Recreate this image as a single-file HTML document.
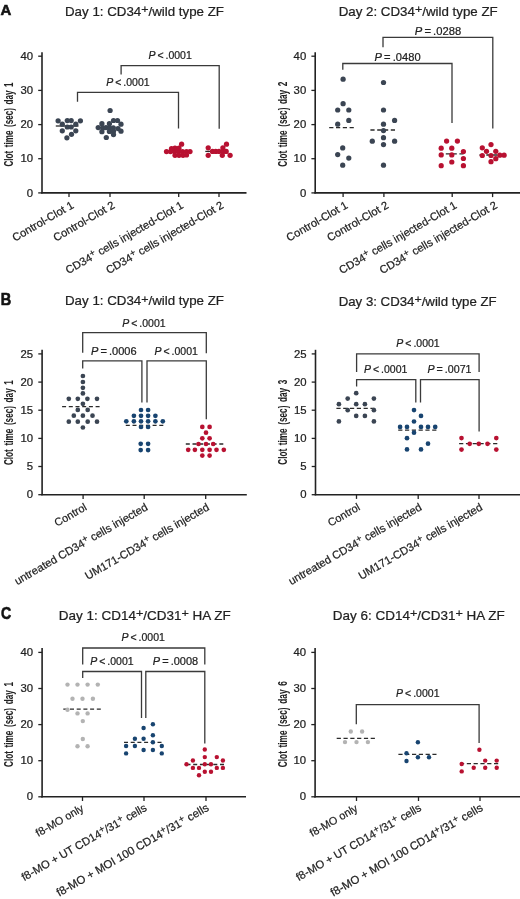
<!DOCTYPE html>
<html><head><meta charset="utf-8"><title>Clot time figure</title>
<style>
html,body{margin:0;padding:0;background:#fff;}
body{width:520px;height:899px;overflow:hidden;}
svg{display:block;font-family:"Liberation Sans",sans-serif;will-change:transform;}
text:not([stroke]){stroke:#222;stroke-width:0.22px;}
</style></head>
<body>
<svg width="520" height="899" viewBox="0 0 520 899">
<rect width="520" height="899" fill="#fff"/>
<text x="0.6" y="14.7" font-size="15.4" font-weight="bold" fill="#111" stroke="#111" stroke-width="0.6" textLength="10.8" lengthAdjust="spacingAndGlyphs">A</text>
<text x="65" y="15.5" font-size="12.6" fill="#222" textLength="159" lengthAdjust="spacingAndGlyphs">Day 1: CD34<tspan font-size="11.8" dy="-2.7">+</tspan><tspan dy="2.7">/wild type ZF</tspan></text>
<text x="338.7" y="15.5" font-size="12.6" fill="#222" textLength="159" lengthAdjust="spacingAndGlyphs">Day 2: CD34<tspan font-size="11.8" dy="-2.7">+</tspan><tspan dy="2.7">/wild type ZF</tspan></text>
<line x1="42" y1="52.2" x2="42" y2="193.5" stroke="#222" stroke-width="1.6"/>
<line x1="41.2" y1="192.9" x2="246.5" y2="192.9" stroke="#222" stroke-width="1.6"/>
<line x1="38.2" y1="192.9" x2="42" y2="192.9" stroke="#222" stroke-width="1.3"/>
<text x="33.0" y="196.5" font-size="10" text-anchor="end" fill="#222" textLength="6.3" lengthAdjust="spacingAndGlyphs">0</text>
<line x1="38.2" y1="158.7" x2="42" y2="158.7" stroke="#222" stroke-width="1.3"/>
<text x="33.0" y="162.3" font-size="10" text-anchor="end" fill="#222" textLength="12.6" lengthAdjust="spacingAndGlyphs">10</text>
<line x1="38.2" y1="124.6" x2="42" y2="124.6" stroke="#222" stroke-width="1.3"/>
<text x="33.0" y="128.2" font-size="10" text-anchor="end" fill="#222" textLength="12.6" lengthAdjust="spacingAndGlyphs">20</text>
<line x1="38.2" y1="90.4" x2="42" y2="90.4" stroke="#222" stroke-width="1.3"/>
<text x="33.0" y="94.0" font-size="10" text-anchor="end" fill="#222" textLength="12.6" lengthAdjust="spacingAndGlyphs">30</text>
<line x1="38.2" y1="56.2" x2="42" y2="56.2" stroke="#222" stroke-width="1.3"/>
<text x="33.0" y="59.8" font-size="10" text-anchor="end" fill="#222" textLength="12.6" lengthAdjust="spacingAndGlyphs">40</text>
<text transform="translate(8.6,124.5) rotate(-90)" x="0" y="4.5" font-size="13.2" font-weight="bold" text-anchor="middle" fill="#222" stroke="#222" stroke-width="0.05" word-spacing="2.2" textLength="84" lengthAdjust="spacingAndGlyphs">Clot time (sec) day 1</text>
<line x1="69" y1="192.9" x2="69" y2="197.1" stroke="#222" stroke-width="1.3"/>
<line x1="110" y1="192.9" x2="110" y2="197.1" stroke="#222" stroke-width="1.3"/>
<line x1="178.7" y1="192.9" x2="178.7" y2="197.1" stroke="#222" stroke-width="1.3"/>
<line x1="219" y1="192.9" x2="219" y2="197.1" stroke="#222" stroke-width="1.3"/>
<text transform="translate(74.5,207.3) rotate(-30)" font-size="11.15" text-anchor="end" fill="#222">Control-Clot 1</text>
<text transform="translate(115.5,207.3) rotate(-30)" font-size="11.15" text-anchor="end" fill="#222">Control-Clot 2</text>
<text transform="translate(184.2,207.3) rotate(-30)" font-size="11.15" text-anchor="end" fill="#222">CD34<tspan font-size="9.6" dy="-3.3">+</tspan><tspan dy="3.3"> cells injected-Clot 1</tspan></text>
<text transform="translate(224.5,207.3) rotate(-30)" font-size="11.15" text-anchor="end" fill="#222">CD34<tspan font-size="9.6" dy="-3.3">+</tspan><tspan dy="3.3"> cells injected-Clot 2</tspan></text>
<line x1="55.8" y1="126" x2="78.5" y2="126" stroke="#2a2a2a" stroke-width="1.3"/>
<circle cx="58.1" cy="120.8" r="2.62" fill="#3b4553"/>
<circle cx="67.3" cy="120.6" r="2.62" fill="#3b4553"/>
<circle cx="71.2" cy="120.6" r="2.62" fill="#3b4553"/>
<circle cx="80.4" cy="120.8" r="2.62" fill="#3b4553"/>
<circle cx="62.3" cy="124.2" r="2.62" fill="#3b4553"/>
<circle cx="75.8" cy="124.2" r="2.62" fill="#3b4553"/>
<circle cx="67.3" cy="127.0" r="2.62" fill="#3b4553"/>
<circle cx="71.2" cy="127.0" r="2.62" fill="#3b4553"/>
<circle cx="62.3" cy="130.8" r="2.62" fill="#3b4553"/>
<circle cx="75.8" cy="130.8" r="2.62" fill="#3b4553"/>
<circle cx="71.5" cy="134.3" r="2.62" fill="#3b4553"/>
<circle cx="66.9" cy="137.8" r="2.62" fill="#3b4553"/>
<line x1="100" y1="127.5" x2="112" y2="127.5" stroke="#2a2a2a" stroke-width="1.3"/>
<circle cx="110.1" cy="110.5" r="2.62" fill="#3b4553"/>
<circle cx="113.5" cy="120.5" r="2.62" fill="#3b4553"/>
<circle cx="117.5" cy="120.5" r="2.62" fill="#3b4553"/>
<circle cx="101.9" cy="123.7" r="2.62" fill="#3b4553"/>
<circle cx="109.4" cy="123.7" r="2.62" fill="#3b4553"/>
<circle cx="121.0" cy="124.2" r="2.62" fill="#3b4553"/>
<circle cx="98.2" cy="127.6" r="2.62" fill="#3b4553"/>
<circle cx="102.8" cy="128.0" r="2.62" fill="#3b4553"/>
<circle cx="106.0" cy="127.6" r="2.62" fill="#3b4553"/>
<circle cx="109.4" cy="128.0" r="2.62" fill="#3b4553"/>
<circle cx="113.3" cy="127.8" r="2.62" fill="#3b4553"/>
<circle cx="118.0" cy="128.6" r="2.62" fill="#3b4553"/>
<circle cx="101.9" cy="131.7" r="2.62" fill="#3b4553"/>
<circle cx="109.4" cy="131.5" r="2.62" fill="#3b4553"/>
<circle cx="113.5" cy="131.2" r="2.62" fill="#3b4553"/>
<circle cx="121.0" cy="131.2" r="2.62" fill="#3b4553"/>
<circle cx="113.5" cy="134.6" r="2.62" fill="#3b4553"/>
<circle cx="106.3" cy="137.5" r="2.62" fill="#3b4553"/>
<line x1="167" y1="151.6" x2="190" y2="151.6" stroke="#2a2a2a" stroke-width="1.3"/>
<circle cx="166.5" cy="151.6" r="2.62" fill="#b81131"/>
<circle cx="170.5" cy="151.6" r="2.62" fill="#b81131"/>
<circle cx="174.5" cy="151.6" r="2.62" fill="#b81131"/>
<circle cx="178.5" cy="151.6" r="2.62" fill="#b81131"/>
<circle cx="182.5" cy="151.6" r="2.62" fill="#b81131"/>
<circle cx="186.5" cy="151.6" r="2.62" fill="#b81131"/>
<circle cx="190.0" cy="151.6" r="2.62" fill="#b81131"/>
<circle cx="175.0" cy="148.0" r="2.62" fill="#b81131"/>
<circle cx="179.0" cy="148.0" r="2.62" fill="#b81131"/>
<circle cx="175.0" cy="155.3" r="2.62" fill="#b81131"/>
<circle cx="179.0" cy="155.3" r="2.62" fill="#b81131"/>
<circle cx="183.0" cy="155.3" r="2.62" fill="#b81131"/>
<circle cx="186.5" cy="155.0" r="2.62" fill="#b81131"/>
<circle cx="181.6" cy="144.2" r="2.62" fill="#b81131"/>
<circle cx="171.5" cy="148.5" r="2.62" fill="#b81131"/>
<line x1="205.3" y1="151.4" x2="224" y2="151.4" stroke="#2a2a2a" stroke-width="1.3"/>
<circle cx="208.2" cy="147.8" r="2.62" fill="#b81131"/>
<circle cx="208.2" cy="155.3" r="2.62" fill="#b81131"/>
<circle cx="212.5" cy="151.4" r="2.62" fill="#b81131"/>
<circle cx="215.7" cy="151.4" r="2.62" fill="#b81131"/>
<circle cx="219.0" cy="151.4" r="2.62" fill="#b81131"/>
<circle cx="223.2" cy="151.6" r="2.62" fill="#b81131"/>
<circle cx="222.9" cy="147.8" r="2.62" fill="#b81131"/>
<circle cx="226.5" cy="144.2" r="2.62" fill="#b81131"/>
<circle cx="222.3" cy="155.3" r="2.62" fill="#b81131"/>
<circle cx="226.2" cy="151.4" r="2.62" fill="#b81131"/>
<circle cx="230.1" cy="155.3" r="2.62" fill="#b81131"/>
<polyline points="77.5,101.8 77.5,92.3 178.5,92.3 178.5,128.5" fill="none" stroke="#3a3a3a" stroke-width="1.3"/>
<polyline points="121.1,74.5 121.1,65.7 219.2,65.7 219.2,128.8" fill="none" stroke="#3a3a3a" stroke-width="1.3"/>
<text x="106.2" y="85.5" font-size="10.2" fill="#222" textLength="43.4" lengthAdjust="spacingAndGlyphs" word-spacing="-0.9"><tspan font-style="italic">P</tspan> &lt; .0001</text>
<text x="148.4" y="58.7" font-size="10.2" fill="#222" textLength="43.4" lengthAdjust="spacingAndGlyphs" word-spacing="-0.9"><tspan font-style="italic">P</tspan> &lt; .0001</text>
<line x1="315.2" y1="52.2" x2="315.2" y2="193.5" stroke="#222" stroke-width="1.6"/>
<line x1="314.4" y1="192.9" x2="520" y2="192.9" stroke="#222" stroke-width="1.6"/>
<line x1="311.4" y1="192.9" x2="315.2" y2="192.9" stroke="#222" stroke-width="1.3"/>
<text x="306.2" y="196.5" font-size="10" text-anchor="end" fill="#222" textLength="6.3" lengthAdjust="spacingAndGlyphs">0</text>
<line x1="311.4" y1="158.7" x2="315.2" y2="158.7" stroke="#222" stroke-width="1.3"/>
<text x="306.2" y="162.3" font-size="10" text-anchor="end" fill="#222" textLength="12.6" lengthAdjust="spacingAndGlyphs">10</text>
<line x1="311.4" y1="124.6" x2="315.2" y2="124.6" stroke="#222" stroke-width="1.3"/>
<text x="306.2" y="128.2" font-size="10" text-anchor="end" fill="#222" textLength="12.6" lengthAdjust="spacingAndGlyphs">20</text>
<line x1="311.4" y1="90.4" x2="315.2" y2="90.4" stroke="#222" stroke-width="1.3"/>
<text x="306.2" y="94.0" font-size="10" text-anchor="end" fill="#222" textLength="12.6" lengthAdjust="spacingAndGlyphs">30</text>
<line x1="311.4" y1="56.2" x2="315.2" y2="56.2" stroke="#222" stroke-width="1.3"/>
<text x="306.2" y="59.8" font-size="10" text-anchor="end" fill="#222" textLength="12.6" lengthAdjust="spacingAndGlyphs">40</text>
<text transform="translate(282.3,124.2) rotate(-90)" x="0" y="4.5" font-size="13.2" font-weight="bold" text-anchor="middle" fill="#222" stroke="#222" stroke-width="0.05" word-spacing="2.2" textLength="85" lengthAdjust="spacingAndGlyphs">Clot time (sec) day 2</text>
<line x1="343.1" y1="192.9" x2="343.1" y2="197.1" stroke="#222" stroke-width="1.3"/>
<line x1="383.9" y1="192.9" x2="383.9" y2="197.1" stroke="#222" stroke-width="1.3"/>
<line x1="452.2" y1="192.9" x2="452.2" y2="197.1" stroke="#222" stroke-width="1.3"/>
<line x1="492.6" y1="192.9" x2="492.6" y2="197.1" stroke="#222" stroke-width="1.3"/>
<text transform="translate(348.6,207.3) rotate(-30)" font-size="11.15" text-anchor="end" fill="#222">Control-Clot 1</text>
<text transform="translate(389.4,207.3) rotate(-30)" font-size="11.15" text-anchor="end" fill="#222">Control-Clot 2</text>
<text transform="translate(457.7,207.3) rotate(-30)" font-size="11.15" text-anchor="end" fill="#222">CD34<tspan font-size="9.6" dy="-3.3">+</tspan><tspan dy="3.3"> cells injected-Clot 1</tspan></text>
<text transform="translate(498.1,207.3) rotate(-30)" font-size="11.15" text-anchor="end" fill="#222">CD34<tspan font-size="9.6" dy="-3.3">+</tspan><tspan dy="3.3"> cells injected-Clot 2</tspan></text>
<line x1="329.2" y1="127.7" x2="354" y2="127.7" stroke="#2a2a2a" stroke-width="1.3" stroke-dasharray="4.2,2.6"/>
<circle cx="343.1" cy="79.2" r="2.62" fill="#3b4553"/>
<circle cx="343.1" cy="103.7" r="2.62" fill="#3b4553"/>
<circle cx="337.7" cy="110.0" r="2.62" fill="#3b4553"/>
<circle cx="348.8" cy="110.0" r="2.62" fill="#3b4553"/>
<circle cx="348.8" cy="120.4" r="2.62" fill="#3b4553"/>
<circle cx="337.7" cy="124.2" r="2.62" fill="#3b4553"/>
<circle cx="342.7" cy="147.9" r="2.62" fill="#3b4553"/>
<circle cx="337.7" cy="154.6" r="2.62" fill="#3b4553"/>
<circle cx="348.8" cy="158.1" r="2.62" fill="#3b4553"/>
<circle cx="342.7" cy="165.2" r="2.62" fill="#3b4553"/>
<line x1="370.4" y1="130" x2="395" y2="130" stroke="#2a2a2a" stroke-width="1.3" stroke-dasharray="4.2,2.6"/>
<circle cx="383.5" cy="82.5" r="2.62" fill="#3b4553"/>
<circle cx="383.5" cy="110.0" r="2.62" fill="#3b4553"/>
<circle cx="394.6" cy="120.4" r="2.62" fill="#3b4553"/>
<circle cx="383.5" cy="124.2" r="2.62" fill="#3b4553"/>
<circle cx="383.5" cy="130.6" r="2.62" fill="#3b4553"/>
<circle cx="383.5" cy="137.7" r="2.62" fill="#3b4553"/>
<circle cx="372.3" cy="141.2" r="2.62" fill="#3b4553"/>
<circle cx="394.6" cy="141.2" r="2.62" fill="#3b4553"/>
<circle cx="383.5" cy="144.6" r="2.62" fill="#3b4553"/>
<circle cx="383.5" cy="165.2" r="2.62" fill="#3b4553"/>
<line x1="439" y1="153.8" x2="465" y2="153.8" stroke="#2a2a2a" stroke-width="1.3" stroke-dasharray="4.2,2.6"/>
<circle cx="446.6" cy="141.1" r="2.62" fill="#b81131"/>
<circle cx="457.4" cy="141.1" r="2.62" fill="#b81131"/>
<circle cx="441.2" cy="148.2" r="2.62" fill="#b81131"/>
<circle cx="451.8" cy="148.2" r="2.62" fill="#b81131"/>
<circle cx="463.4" cy="151.5" r="2.62" fill="#b81131"/>
<circle cx="441.2" cy="154.9" r="2.62" fill="#b81131"/>
<circle cx="451.8" cy="154.9" r="2.62" fill="#b81131"/>
<circle cx="463.4" cy="158.5" r="2.62" fill="#b81131"/>
<circle cx="451.8" cy="162.0" r="2.62" fill="#b81131"/>
<circle cx="441.2" cy="165.7" r="2.62" fill="#b81131"/>
<circle cx="463.4" cy="165.7" r="2.62" fill="#b81131"/>
<line x1="479.5" y1="155" x2="505" y2="155" stroke="#2a2a2a" stroke-width="1.3" stroke-dasharray="4.2,2.6"/>
<circle cx="491.0" cy="144.6" r="2.62" fill="#b81131"/>
<circle cx="482.3" cy="147.8" r="2.62" fill="#b81131"/>
<circle cx="486.5" cy="151.3" r="2.62" fill="#b81131"/>
<circle cx="495.8" cy="151.3" r="2.62" fill="#b81131"/>
<circle cx="482.3" cy="155.5" r="2.62" fill="#b81131"/>
<circle cx="491.0" cy="155.5" r="2.62" fill="#b81131"/>
<circle cx="499.8" cy="155.2" r="2.62" fill="#b81131"/>
<circle cx="504.1" cy="155.2" r="2.62" fill="#b81131"/>
<circle cx="495.8" cy="158.7" r="2.62" fill="#b81131"/>
<circle cx="491.0" cy="161.7" r="2.62" fill="#b81131"/>
<polyline points="342.8,69.7 342.8,63.5 452,63.5 452,123" fill="none" stroke="#3a3a3a" stroke-width="1.3"/>
<polyline points="383,47.2 383,37.4 492.8,37.4 492.8,128.5" fill="none" stroke="#3a3a3a" stroke-width="1.3"/>
<text x="374.6" y="61.3" font-size="10.2" fill="#222" textLength="46.0" lengthAdjust="spacingAndGlyphs" word-spacing="-0.9"><tspan font-style="italic">P</tspan> = .0480</text>
<text x="414.8" y="34.9" font-size="10.2" fill="#222" textLength="46.4" lengthAdjust="spacingAndGlyphs" word-spacing="-0.9"><tspan font-style="italic">P</tspan> = .0288</text>
<text x="0.8" y="304.9" font-size="15.6" font-weight="bold" fill="#111" stroke="#111" stroke-width="0.6" textLength="10.5" lengthAdjust="spacingAndGlyphs">B</text>
<text x="65" y="305.2" font-size="12.6" fill="#222" textLength="159" lengthAdjust="spacingAndGlyphs">Day 1: CD34<tspan font-size="11.8" dy="-2.7">+</tspan><tspan dy="2.7">/wild type ZF</tspan></text>
<text x="338.7" y="306" font-size="12.6" fill="#222" textLength="158" lengthAdjust="spacingAndGlyphs">Day 3: CD34<tspan font-size="11.8" dy="-2.7">+</tspan><tspan dy="2.7">/wild type ZF</tspan></text>
<line x1="42.1" y1="349.8" x2="42.1" y2="495.3" stroke="#222" stroke-width="1.6"/>
<line x1="41.300000000000004" y1="494.7" x2="246.8" y2="494.7" stroke="#222" stroke-width="1.6"/>
<line x1="38.300000000000004" y1="494.7" x2="42.1" y2="494.7" stroke="#222" stroke-width="1.3"/>
<text x="33.1" y="498.3" font-size="10" text-anchor="end" fill="#222" textLength="6.3" lengthAdjust="spacingAndGlyphs">0</text>
<line x1="38.300000000000004" y1="466.5" x2="42.1" y2="466.5" stroke="#222" stroke-width="1.3"/>
<text x="33.1" y="470.1" font-size="10" text-anchor="end" fill="#222" textLength="6.3" lengthAdjust="spacingAndGlyphs">5</text>
<line x1="38.300000000000004" y1="438.4" x2="42.1" y2="438.4" stroke="#222" stroke-width="1.3"/>
<text x="33.1" y="442.0" font-size="10" text-anchor="end" fill="#222" textLength="12.6" lengthAdjust="spacingAndGlyphs">10</text>
<line x1="38.300000000000004" y1="410.2" x2="42.1" y2="410.2" stroke="#222" stroke-width="1.3"/>
<text x="33.1" y="413.8" font-size="10" text-anchor="end" fill="#222" textLength="12.6" lengthAdjust="spacingAndGlyphs">15</text>
<line x1="38.300000000000004" y1="382.1" x2="42.1" y2="382.1" stroke="#222" stroke-width="1.3"/>
<text x="33.1" y="385.7" font-size="10" text-anchor="end" fill="#222" textLength="12.6" lengthAdjust="spacingAndGlyphs">20</text>
<line x1="38.300000000000004" y1="353.9" x2="42.1" y2="353.9" stroke="#222" stroke-width="1.3"/>
<text x="33.1" y="357.5" font-size="10" text-anchor="end" fill="#222" textLength="12.6" lengthAdjust="spacingAndGlyphs">25</text>
<text transform="translate(8.9,422.6) rotate(-90)" x="0" y="4.5" font-size="13.2" font-weight="bold" text-anchor="middle" fill="#222" stroke="#222" stroke-width="0.05" word-spacing="2.2" textLength="85" lengthAdjust="spacingAndGlyphs">Clot time (sec) day 1</text>
<line x1="83.1" y1="494.7" x2="83.1" y2="498.9" stroke="#222" stroke-width="1.3"/>
<line x1="144.2" y1="494.7" x2="144.2" y2="498.9" stroke="#222" stroke-width="1.3"/>
<line x1="205.7" y1="494.7" x2="205.7" y2="498.9" stroke="#222" stroke-width="1.3"/>
<text transform="translate(87.5,509.3) rotate(-30)" font-size="10.9" text-anchor="end" fill="#222">Control</text>
<text transform="translate(148.6,509.3) rotate(-30)" font-size="11.2" text-anchor="end" fill="#222">untreated CD34<tspan font-size="9.6" dy="-3.3">+</tspan><tspan dy="3.3"> cells injected</tspan></text>
<text transform="translate(210.1,509.3) rotate(-30)" font-size="11.2" text-anchor="end" fill="#222">UM171-CD34<tspan font-size="9.6" dy="-3.3">+</tspan><tspan dy="3.3"> cells injected</tspan></text>
<line x1="62.1" y1="406.7" x2="100" y2="406.7" stroke="#2a2a2a" stroke-width="1.3" stroke-dasharray="4,2.7"/>
<circle cx="82.9" cy="376.0" r="2.35" fill="#3b4553"/>
<circle cx="82.9" cy="382.0" r="2.35" fill="#3b4553"/>
<circle cx="82.9" cy="387.8" r="2.35" fill="#3b4553"/>
<circle cx="82.9" cy="393.4" r="2.35" fill="#3b4553"/>
<circle cx="68.8" cy="398.8" r="2.35" fill="#3b4553"/>
<circle cx="77.8" cy="398.8" r="2.35" fill="#3b4553"/>
<circle cx="87.4" cy="398.8" r="2.35" fill="#3b4553"/>
<circle cx="97.0" cy="398.8" r="2.35" fill="#3b4553"/>
<circle cx="82.9" cy="403.8" r="2.35" fill="#3b4553"/>
<circle cx="77.8" cy="409.9" r="2.35" fill="#3b4553"/>
<circle cx="87.7" cy="409.9" r="2.35" fill="#3b4553"/>
<circle cx="73.8" cy="415.7" r="2.35" fill="#3b4553"/>
<circle cx="82.9" cy="415.7" r="2.35" fill="#3b4553"/>
<circle cx="92.5" cy="415.7" r="2.35" fill="#3b4553"/>
<circle cx="68.8" cy="421.7" r="2.35" fill="#3b4553"/>
<circle cx="77.8" cy="421.7" r="2.35" fill="#3b4553"/>
<circle cx="87.7" cy="421.7" r="2.35" fill="#3b4553"/>
<circle cx="97.0" cy="421.7" r="2.35" fill="#3b4553"/>
<circle cx="82.9" cy="427.5" r="2.35" fill="#3b4553"/>
<line x1="125.8" y1="425.4" x2="164.5" y2="425.4" stroke="#2a2a2a" stroke-width="1.3" stroke-dasharray="4,2.7"/>
<circle cx="141.0" cy="410.0" r="2.35" fill="#184470"/>
<circle cx="148.1" cy="410.0" r="2.35" fill="#184470"/>
<circle cx="133.9" cy="415.8" r="2.35" fill="#184470"/>
<circle cx="141.0" cy="415.8" r="2.35" fill="#184470"/>
<circle cx="148.1" cy="415.8" r="2.35" fill="#184470"/>
<circle cx="155.4" cy="415.8" r="2.35" fill="#184470"/>
<circle cx="126.3" cy="421.3" r="2.35" fill="#184470"/>
<circle cx="133.9" cy="421.3" r="2.35" fill="#184470"/>
<circle cx="141.0" cy="421.3" r="2.35" fill="#184470"/>
<circle cx="148.1" cy="421.3" r="2.35" fill="#184470"/>
<circle cx="155.4" cy="421.3" r="2.35" fill="#184470"/>
<circle cx="162.8" cy="421.3" r="2.35" fill="#184470"/>
<circle cx="141.0" cy="427.0" r="2.35" fill="#184470"/>
<circle cx="148.1" cy="427.0" r="2.35" fill="#184470"/>
<circle cx="140.7" cy="443.8" r="2.35" fill="#184470"/>
<circle cx="148.1" cy="443.8" r="2.35" fill="#184470"/>
<circle cx="140.7" cy="450.1" r="2.35" fill="#184470"/>
<circle cx="148.1" cy="450.1" r="2.35" fill="#184470"/>
<line x1="185.8" y1="444" x2="224" y2="444" stroke="#2a2a2a" stroke-width="1.3" stroke-dasharray="4,2.7"/>
<circle cx="202.3" cy="426.9" r="2.35" fill="#b81131"/>
<circle cx="209.6" cy="426.9" r="2.35" fill="#b81131"/>
<circle cx="206.0" cy="432.7" r="2.35" fill="#b81131"/>
<circle cx="202.3" cy="438.3" r="2.35" fill="#b81131"/>
<circle cx="209.6" cy="438.3" r="2.35" fill="#b81131"/>
<circle cx="198.5" cy="444.0" r="2.35" fill="#b81131"/>
<circle cx="206.0" cy="444.0" r="2.35" fill="#b81131"/>
<circle cx="213.2" cy="444.0" r="2.35" fill="#b81131"/>
<circle cx="188.2" cy="449.8" r="2.35" fill="#b81131"/>
<circle cx="194.9" cy="449.8" r="2.35" fill="#b81131"/>
<circle cx="202.3" cy="449.8" r="2.35" fill="#b81131"/>
<circle cx="209.6" cy="449.8" r="2.35" fill="#b81131"/>
<circle cx="216.5" cy="449.8" r="2.35" fill="#b81131"/>
<circle cx="223.8" cy="449.8" r="2.35" fill="#b81131"/>
<circle cx="202.3" cy="455.6" r="2.35" fill="#b81131"/>
<circle cx="209.6" cy="455.6" r="2.35" fill="#b81131"/>
<polyline points="82.7,352.7 82.7,332.7 206.3,332.7 206.3,353.3" fill="none" stroke="#3a3a3a" stroke-width="1.3"/>
<polyline points="82.7,368.5 82.7,360.8 141.9,360.8 141.9,402.5" fill="none" stroke="#3a3a3a" stroke-width="1.3"/>
<polyline points="147,402.5 147,360.8 206.3,360.8 206.3,419.3" fill="none" stroke="#3a3a3a" stroke-width="1.3"/>
<text x="122.2" y="326.5" font-size="10.2" fill="#222" textLength="43.4" lengthAdjust="spacingAndGlyphs" word-spacing="-0.9"><tspan font-style="italic">P</tspan> &lt; .0001</text>
<text x="91" y="354.7" font-size="10.2" fill="#222" textLength="45.6" lengthAdjust="spacingAndGlyphs" word-spacing="-0.9"><tspan font-style="italic">P</tspan> = .0006</text>
<text x="154.5" y="354.7" font-size="10.2" fill="#222" textLength="43.4" lengthAdjust="spacingAndGlyphs" word-spacing="-0.9"><tspan font-style="italic">P</tspan> &lt; .0001</text>
<line x1="315.5" y1="349.8" x2="315.5" y2="495.3" stroke="#222" stroke-width="1.6"/>
<line x1="314.7" y1="494.7" x2="520" y2="494.7" stroke="#222" stroke-width="1.6"/>
<line x1="311.7" y1="494.7" x2="315.5" y2="494.7" stroke="#222" stroke-width="1.3"/>
<text x="306.5" y="498.3" font-size="10" text-anchor="end" fill="#222" textLength="6.3" lengthAdjust="spacingAndGlyphs">0</text>
<line x1="311.7" y1="466.5" x2="315.5" y2="466.5" stroke="#222" stroke-width="1.3"/>
<text x="306.5" y="470.1" font-size="10" text-anchor="end" fill="#222" textLength="6.3" lengthAdjust="spacingAndGlyphs">5</text>
<line x1="311.7" y1="438.4" x2="315.5" y2="438.4" stroke="#222" stroke-width="1.3"/>
<text x="306.5" y="442.0" font-size="10" text-anchor="end" fill="#222" textLength="12.6" lengthAdjust="spacingAndGlyphs">10</text>
<line x1="311.7" y1="410.2" x2="315.5" y2="410.2" stroke="#222" stroke-width="1.3"/>
<text x="306.5" y="413.8" font-size="10" text-anchor="end" fill="#222" textLength="12.6" lengthAdjust="spacingAndGlyphs">15</text>
<line x1="311.7" y1="382.1" x2="315.5" y2="382.1" stroke="#222" stroke-width="1.3"/>
<text x="306.5" y="385.7" font-size="10" text-anchor="end" fill="#222" textLength="12.6" lengthAdjust="spacingAndGlyphs">20</text>
<line x1="311.7" y1="353.9" x2="315.5" y2="353.9" stroke="#222" stroke-width="1.3"/>
<text x="306.5" y="357.5" font-size="10" text-anchor="end" fill="#222" textLength="12.6" lengthAdjust="spacingAndGlyphs">25</text>
<text transform="translate(282.2,422.2) rotate(-90)" x="0" y="4.5" font-size="13.2" font-weight="bold" text-anchor="middle" fill="#222" stroke="#222" stroke-width="0.05" word-spacing="2.2" textLength="85" lengthAdjust="spacingAndGlyphs">Clot time (sec) day 3</text>
<line x1="356.5" y1="494.7" x2="356.5" y2="498.9" stroke="#222" stroke-width="1.3"/>
<line x1="418.2" y1="494.7" x2="418.2" y2="498.9" stroke="#222" stroke-width="1.3"/>
<line x1="479" y1="494.7" x2="479" y2="498.9" stroke="#222" stroke-width="1.3"/>
<text transform="translate(360.9,509.3) rotate(-30)" font-size="10.9" text-anchor="end" fill="#222">Control</text>
<text transform="translate(422.6,509.3) rotate(-30)" font-size="11.2" text-anchor="end" fill="#222">untreated CD34<tspan font-size="9.6" dy="-3.3">+</tspan><tspan dy="3.3"> cells injected</tspan></text>
<text transform="translate(483.4,509.3) rotate(-30)" font-size="11.2" text-anchor="end" fill="#222">UM171-CD34<tspan font-size="9.6" dy="-3.3">+</tspan><tspan dy="3.3"> cells injected</tspan></text>
<line x1="336.4" y1="408.3" x2="375.5" y2="408.3" stroke="#2a2a2a" stroke-width="1.3" stroke-dasharray="4.2,2.6"/>
<circle cx="356.2" cy="393.2" r="2.35" fill="#3b4553"/>
<circle cx="347.7" cy="398.6" r="2.35" fill="#3b4553"/>
<circle cx="373.9" cy="398.6" r="2.35" fill="#3b4553"/>
<circle cx="338.9" cy="404.2" r="2.35" fill="#3b4553"/>
<circle cx="356.2" cy="404.2" r="2.35" fill="#3b4553"/>
<circle cx="364.9" cy="404.2" r="2.35" fill="#3b4553"/>
<circle cx="347.7" cy="410.2" r="2.35" fill="#3b4553"/>
<circle cx="373.9" cy="410.2" r="2.35" fill="#3b4553"/>
<circle cx="356.2" cy="415.9" r="2.35" fill="#3b4553"/>
<circle cx="364.9" cy="415.9" r="2.35" fill="#3b4553"/>
<circle cx="338.9" cy="421.4" r="2.35" fill="#3b4553"/>
<circle cx="373.9" cy="421.4" r="2.35" fill="#3b4553"/>
<line x1="398.2" y1="430.2" x2="436.5" y2="430.2" stroke="#2a2a2a" stroke-width="1.3" stroke-dasharray="4.2,2.6"/>
<circle cx="414.0" cy="410.1" r="2.35" fill="#184470"/>
<circle cx="421.0" cy="415.9" r="2.35" fill="#184470"/>
<circle cx="414.0" cy="421.5" r="2.35" fill="#184470"/>
<circle cx="400.1" cy="426.9" r="2.35" fill="#184470"/>
<circle cx="407.0" cy="426.9" r="2.35" fill="#184470"/>
<circle cx="421.0" cy="426.9" r="2.35" fill="#184470"/>
<circle cx="428.0" cy="426.9" r="2.35" fill="#184470"/>
<circle cx="435.2" cy="426.9" r="2.35" fill="#184470"/>
<circle cx="414.0" cy="432.7" r="2.35" fill="#184470"/>
<circle cx="407.0" cy="438.2" r="2.35" fill="#184470"/>
<circle cx="428.0" cy="443.7" r="2.35" fill="#184470"/>
<circle cx="407.0" cy="449.4" r="2.35" fill="#184470"/>
<circle cx="421.0" cy="449.4" r="2.35" fill="#184470"/>
<line x1="459.1" y1="443.6" x2="497.5" y2="443.6" stroke="#2a2a2a" stroke-width="1.3" stroke-dasharray="4.2,2.6"/>
<circle cx="461.5" cy="438.1" r="2.35" fill="#b81131"/>
<circle cx="496.3" cy="438.1" r="2.35" fill="#b81131"/>
<circle cx="469.7" cy="443.8" r="2.35" fill="#b81131"/>
<circle cx="478.8" cy="443.8" r="2.35" fill="#b81131"/>
<circle cx="487.5" cy="443.8" r="2.35" fill="#b81131"/>
<circle cx="461.5" cy="449.6" r="2.35" fill="#b81131"/>
<circle cx="496.3" cy="449.6" r="2.35" fill="#b81131"/>
<polyline points="356.6,371.9 356.6,353.9 479.1,353.9 479.1,371.9" fill="none" stroke="#3a3a3a" stroke-width="1.3"/>
<polyline points="356.6,386.5 356.6,379.6 415.8,379.6 415.8,402.6" fill="none" stroke="#3a3a3a" stroke-width="1.3"/>
<polyline points="420.5,402.6 420.5,379.6 479.1,379.6 479.1,431.5" fill="none" stroke="#3a3a3a" stroke-width="1.3"/>
<text x="396.3" y="347" font-size="10.2" fill="#222" textLength="43.4" lengthAdjust="spacingAndGlyphs" word-spacing="-0.9"><tspan font-style="italic">P</tspan> &lt; .0001</text>
<text x="364" y="372.7" font-size="10.2" fill="#222" textLength="43.4" lengthAdjust="spacingAndGlyphs" word-spacing="-0.9"><tspan font-style="italic">P</tspan> &lt; .0001</text>
<text x="427.5" y="372.7" font-size="10.2" fill="#222" textLength="44.0" lengthAdjust="spacingAndGlyphs" word-spacing="-0.9"><tspan font-style="italic">P</tspan> = .0071</text>
<text x="0.9" y="618.9" font-size="17.0" font-weight="bold" fill="#111" stroke="#111" stroke-width="0.6" textLength="10.2" lengthAdjust="spacingAndGlyphs">C</text>
<text x="58.8" y="619.6" font-size="12.6" fill="#222" textLength="172" lengthAdjust="spacingAndGlyphs">Day 1: CD14<tspan font-size="11.8" dy="-2.7">+</tspan><tspan dy="2.7">/CD31</tspan><tspan font-size="11.8" dy="-2.7">+</tspan><tspan dy="2.7"> HA ZF</tspan></text>
<text x="332.8" y="620" font-size="12.6" fill="#222" textLength="172" lengthAdjust="spacingAndGlyphs">Day 6: CD14<tspan font-size="11.8" dy="-2.7">+</tspan><tspan dy="2.7">/CD31</tspan><tspan font-size="11.8" dy="-2.7">+</tspan><tspan dy="2.7"> HA ZF</tspan></text>
<line x1="42.1" y1="648" x2="42.1" y2="797.4" stroke="#222" stroke-width="1.6"/>
<line x1="41.300000000000004" y1="796.8" x2="246" y2="796.8" stroke="#222" stroke-width="1.6"/>
<line x1="38.300000000000004" y1="796.8" x2="42.1" y2="796.8" stroke="#222" stroke-width="1.3"/>
<text x="33.1" y="800.4" font-size="10" text-anchor="end" fill="#222" textLength="6.3" lengthAdjust="spacingAndGlyphs">0</text>
<line x1="38.300000000000004" y1="760.7" x2="42.1" y2="760.7" stroke="#222" stroke-width="1.3"/>
<text x="33.1" y="764.3" font-size="10" text-anchor="end" fill="#222" textLength="12.6" lengthAdjust="spacingAndGlyphs">10</text>
<line x1="38.300000000000004" y1="724.6" x2="42.1" y2="724.6" stroke="#222" stroke-width="1.3"/>
<text x="33.1" y="728.2" font-size="10" text-anchor="end" fill="#222" textLength="12.6" lengthAdjust="spacingAndGlyphs">20</text>
<line x1="38.300000000000004" y1="688.5" x2="42.1" y2="688.5" stroke="#222" stroke-width="1.3"/>
<text x="33.1" y="692.1" font-size="10" text-anchor="end" fill="#222" textLength="12.6" lengthAdjust="spacingAndGlyphs">30</text>
<line x1="38.300000000000004" y1="652.4" x2="42.1" y2="652.4" stroke="#222" stroke-width="1.3"/>
<text x="33.1" y="656.0" font-size="10" text-anchor="end" fill="#222" textLength="12.6" lengthAdjust="spacingAndGlyphs">40</text>
<text transform="translate(8.9,724.5) rotate(-90)" x="0" y="4.5" font-size="13.2" font-weight="bold" text-anchor="middle" fill="#222" stroke="#222" stroke-width="0.05" word-spacing="2.2" textLength="85" lengthAdjust="spacingAndGlyphs">Clot time (sec) day 1</text>
<line x1="82.5" y1="796.8" x2="82.5" y2="801.0" stroke="#222" stroke-width="1.3"/>
<line x1="144" y1="796.8" x2="144" y2="801.0" stroke="#222" stroke-width="1.3"/>
<line x1="206" y1="796.8" x2="206" y2="801.0" stroke="#222" stroke-width="1.3"/>
<text transform="translate(84.5,810.4) rotate(-30)" font-size="10.9" text-anchor="end" fill="#222">f8-MO only</text>
<text transform="translate(147.6,810.0) rotate(-30)" font-size="11.2" text-anchor="end" fill="#222">f8-MO + UT CD14<tspan font-size="9.6" dy="-3.3">+</tspan><tspan dy="3.3">/31</tspan><tspan font-size="9.6" dy="-3.3">+</tspan><tspan dy="3.3"> cells</tspan></text>
<text transform="translate(209.6,810.0) rotate(-30)" font-size="11.4" text-anchor="end" fill="#222">f8-MO + MOI 100 CD14<tspan font-size="9.6" dy="-3.3">+</tspan><tspan dy="3.3">/31</tspan><tspan font-size="9.6" dy="-3.3">+</tspan><tspan dy="3.3"> cells</tspan></text>
<line x1="63.3" y1="709.1" x2="101.5" y2="709.1" stroke="#2a2a2a" stroke-width="1.3" stroke-dasharray="4,2.7"/>
<circle cx="67.5" cy="684.6" r="2.2" fill="#b3b3b3"/>
<circle cx="77.5" cy="684.6" r="2.2" fill="#b3b3b3"/>
<circle cx="87.6" cy="684.6" r="2.2" fill="#b3b3b3"/>
<circle cx="97.8" cy="684.6" r="2.2" fill="#b3b3b3"/>
<circle cx="72.5" cy="698.8" r="2.2" fill="#b3b3b3"/>
<circle cx="82.5" cy="698.8" r="2.2" fill="#b3b3b3"/>
<circle cx="92.9" cy="698.8" r="2.2" fill="#b3b3b3"/>
<circle cx="67.5" cy="709.7" r="2.2" fill="#b3b3b3"/>
<circle cx="77.5" cy="713.4" r="2.2" fill="#b3b3b3"/>
<circle cx="87.6" cy="713.4" r="2.2" fill="#b3b3b3"/>
<circle cx="82.8" cy="721.1" r="2.2" fill="#b3b3b3"/>
<circle cx="82.8" cy="739.0" r="2.2" fill="#b3b3b3"/>
<circle cx="77.5" cy="746.2" r="2.2" fill="#b3b3b3"/>
<circle cx="87.6" cy="746.2" r="2.2" fill="#b3b3b3"/>
<line x1="124" y1="742.3" x2="163" y2="742.3" stroke="#2a2a2a" stroke-width="1.3" stroke-dasharray="4,2.7"/>
<circle cx="152.9" cy="724.3" r="2.2" fill="#184470"/>
<circle cx="143.6" cy="728.0" r="2.2" fill="#184470"/>
<circle cx="152.9" cy="735.2" r="2.2" fill="#184470"/>
<circle cx="134.9" cy="738.8" r="2.2" fill="#184470"/>
<circle cx="143.6" cy="738.8" r="2.2" fill="#184470"/>
<circle cx="152.9" cy="742.3" r="2.2" fill="#184470"/>
<circle cx="126.1" cy="746.0" r="2.2" fill="#184470"/>
<circle cx="134.9" cy="746.0" r="2.2" fill="#184470"/>
<circle cx="161.8" cy="746.0" r="2.2" fill="#184470"/>
<circle cx="143.6" cy="750.0" r="2.2" fill="#184470"/>
<circle cx="152.9" cy="750.0" r="2.2" fill="#184470"/>
<circle cx="126.1" cy="753.4" r="2.2" fill="#184470"/>
<circle cx="161.8" cy="753.4" r="2.2" fill="#184470"/>
<line x1="186.5" y1="764.5" x2="224" y2="764.5" stroke="#2a2a2a" stroke-width="1.3" stroke-dasharray="4,2.7"/>
<circle cx="204.8" cy="749.5" r="2.2" fill="#b81131"/>
<circle cx="204.8" cy="757.1" r="2.2" fill="#b81131"/>
<circle cx="216.8" cy="757.1" r="2.2" fill="#b81131"/>
<circle cx="192.9" cy="760.5" r="2.2" fill="#b81131"/>
<circle cx="222.9" cy="760.5" r="2.2" fill="#b81131"/>
<circle cx="186.5" cy="764.2" r="2.2" fill="#b81131"/>
<circle cx="204.8" cy="764.2" r="2.2" fill="#b81131"/>
<circle cx="211.0" cy="764.2" r="2.2" fill="#b81131"/>
<circle cx="192.9" cy="767.9" r="2.2" fill="#b81131"/>
<circle cx="199.0" cy="767.9" r="2.2" fill="#b81131"/>
<circle cx="216.8" cy="767.9" r="2.2" fill="#b81131"/>
<circle cx="222.9" cy="767.9" r="2.2" fill="#b81131"/>
<circle cx="204.8" cy="771.7" r="2.2" fill="#b81131"/>
<circle cx="211.0" cy="771.7" r="2.2" fill="#b81131"/>
<circle cx="199.0" cy="775.2" r="2.2" fill="#b81131"/>
<polyline points="82.7,664.6 82.7,648 204.8,648 204.8,664.6" fill="none" stroke="#3a3a3a" stroke-width="1.3"/>
<polyline points="82.7,677.9 82.7,671.5 141.5,671.5 141.5,717.9" fill="none" stroke="#3a3a3a" stroke-width="1.3"/>
<polyline points="145.8,717.9 145.8,671.5 204.8,671.5 204.8,743.5" fill="none" stroke="#3a3a3a" stroke-width="1.3"/>
<text x="121.5" y="641" font-size="10.2" fill="#222" textLength="43.4" lengthAdjust="spacingAndGlyphs" word-spacing="-0.9"><tspan font-style="italic">P</tspan> &lt; .0001</text>
<text x="90.2" y="664.6" font-size="10.2" fill="#222" textLength="43.4" lengthAdjust="spacingAndGlyphs" word-spacing="-0.9"><tspan font-style="italic">P</tspan> &lt; .0001</text>
<text x="152.8" y="664.6" font-size="10.2" fill="#222" textLength="45.3" lengthAdjust="spacingAndGlyphs" word-spacing="-0.9"><tspan font-style="italic">P</tspan> = .0008</text>
<line x1="315.1" y1="648" x2="315.1" y2="797.4" stroke="#222" stroke-width="1.6"/>
<line x1="314.3" y1="796.8" x2="520" y2="796.8" stroke="#222" stroke-width="1.6"/>
<line x1="311.3" y1="796.8" x2="315.1" y2="796.8" stroke="#222" stroke-width="1.3"/>
<text x="306.1" y="800.4" font-size="10" text-anchor="end" fill="#222" textLength="6.3" lengthAdjust="spacingAndGlyphs">0</text>
<line x1="311.3" y1="760.7" x2="315.1" y2="760.7" stroke="#222" stroke-width="1.3"/>
<text x="306.1" y="764.3" font-size="10" text-anchor="end" fill="#222" textLength="12.6" lengthAdjust="spacingAndGlyphs">10</text>
<line x1="311.3" y1="724.6" x2="315.1" y2="724.6" stroke="#222" stroke-width="1.3"/>
<text x="306.1" y="728.2" font-size="10" text-anchor="end" fill="#222" textLength="12.6" lengthAdjust="spacingAndGlyphs">20</text>
<line x1="311.3" y1="688.5" x2="315.1" y2="688.5" stroke="#222" stroke-width="1.3"/>
<text x="306.1" y="692.1" font-size="10" text-anchor="end" fill="#222" textLength="12.6" lengthAdjust="spacingAndGlyphs">30</text>
<line x1="311.3" y1="652.4" x2="315.1" y2="652.4" stroke="#222" stroke-width="1.3"/>
<text x="306.1" y="656.0" font-size="10" text-anchor="end" fill="#222" textLength="12.6" lengthAdjust="spacingAndGlyphs">40</text>
<text transform="translate(282.8,724.2) rotate(-90)" x="0" y="4.5" font-size="13.2" font-weight="bold" text-anchor="middle" fill="#222" stroke="#222" stroke-width="0.05" word-spacing="2.2" textLength="86" lengthAdjust="spacingAndGlyphs">Clot time (sec) day 6</text>
<line x1="356.5" y1="796.8" x2="356.5" y2="801.0" stroke="#222" stroke-width="1.3"/>
<line x1="418.5" y1="796.8" x2="418.5" y2="801.0" stroke="#222" stroke-width="1.3"/>
<line x1="480" y1="796.8" x2="480" y2="801.0" stroke="#222" stroke-width="1.3"/>
<text transform="translate(358.5,810.4) rotate(-30)" font-size="10.9" text-anchor="end" fill="#222">f8-MO only</text>
<text transform="translate(422.1,810.0) rotate(-30)" font-size="11.2" text-anchor="end" fill="#222">f8-MO + UT CD14<tspan font-size="9.6" dy="-3.3">+</tspan><tspan dy="3.3">/31</tspan><tspan font-size="9.6" dy="-3.3">+</tspan><tspan dy="3.3"> cells</tspan></text>
<text transform="translate(483.6,810.0) rotate(-30)" font-size="11.4" text-anchor="end" fill="#222">f8-MO + MOI 100 CD14<tspan font-size="9.6" dy="-3.3">+</tspan><tspan dy="3.3">/31</tspan><tspan font-size="9.6" dy="-3.3">+</tspan><tspan dy="3.3"> cells</tspan></text>
<line x1="336.7" y1="738.3" x2="375.5" y2="738.3" stroke="#2a2a2a" stroke-width="1.3" stroke-dasharray="4.2,2.6"/>
<circle cx="350.8" cy="731.5" r="2.2" fill="#b3b3b3"/>
<circle cx="362.1" cy="731.5" r="2.2" fill="#b3b3b3"/>
<circle cx="345.0" cy="742.1" r="2.2" fill="#b3b3b3"/>
<circle cx="356.5" cy="742.1" r="2.2" fill="#b3b3b3"/>
<circle cx="367.9" cy="742.1" r="2.2" fill="#b3b3b3"/>
<line x1="398.4" y1="754.3" x2="436.5" y2="754.3" stroke="#2a2a2a" stroke-width="1.3" stroke-dasharray="4.2,2.6"/>
<circle cx="417.9" cy="742.2" r="2.2" fill="#184470"/>
<circle cx="406.5" cy="753.3" r="2.2" fill="#184470"/>
<circle cx="417.9" cy="757.3" r="2.2" fill="#184470"/>
<circle cx="429.0" cy="757.3" r="2.2" fill="#184470"/>
<circle cx="406.5" cy="761.0" r="2.2" fill="#184470"/>
<line x1="460" y1="763.7" x2="499" y2="763.7" stroke="#2a2a2a" stroke-width="1.3" stroke-dasharray="4.2,2.6"/>
<circle cx="479.4" cy="749.8" r="2.2" fill="#b81131"/>
<circle cx="485.2" cy="760.6" r="2.2" fill="#b81131"/>
<circle cx="496.7" cy="760.6" r="2.2" fill="#b81131"/>
<circle cx="461.7" cy="764.0" r="2.2" fill="#b81131"/>
<circle cx="473.7" cy="767.8" r="2.2" fill="#b81131"/>
<circle cx="485.2" cy="767.8" r="2.2" fill="#b81131"/>
<circle cx="496.7" cy="767.8" r="2.2" fill="#b81131"/>
<circle cx="461.7" cy="771.4" r="2.2" fill="#b81131"/>
<polyline points="356.3,724.2 356.3,704.6 479.1,704.6 479.1,743.1" fill="none" stroke="#3a3a3a" stroke-width="1.3"/>
<text x="396.1" y="696.9" font-size="10.2" fill="#222" textLength="43.4" lengthAdjust="spacingAndGlyphs" word-spacing="-0.9"><tspan font-style="italic">P</tspan> &lt; .0001</text>
</svg>
</body></html>
